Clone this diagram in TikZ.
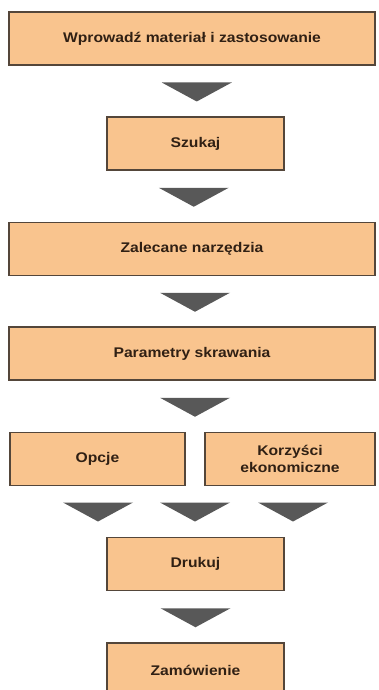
\documentclass[tikz,border=0pt]{standalone}
\usepackage{fontspec}
\setmainfont{Liberation Sans}
\newfontfamily\boxfont[FakeStretch=1.12]{Liberation Sans Bold}
\usetikzlibrary{calc}
\definecolor{boxfill}{RGB}{249,196,142}
\definecolor{boxline}{RGB}{84,70,58}
\definecolor{boxtext}{RGB}{48,32,20}
\definecolor{tipfill}{RGB}{88,88,88}
\begin{document}
\begin{tikzpicture}[x=1pt, y=-1pt, line join=miter,
	stepbox/.style={draw=boxline, line width=1.5pt, fill=boxfill, text=boxtext, minimum height=53pt, inner sep=0pt, align=center, font=\boxfont\fontsize{14}{17}\selectfont},
	widebox/.style={stepbox, minimum width=366pt},
	narrowbox/.style={stepbox, minimum width=177pt},
	tri/.style={fill=tipfill, draw=none}]
	\useasboundingbox (0, 0) rectangle (378, 690);
	\clip (0, 0) rectangle (378, 690);
	% First layer
	\node [widebox] (input) at (192, 38.5) {Wprowadź materiał i zastosowanie};
	% Second layer
	\node [narrowbox] (search) at (195.5, 143.5) {Szukaj};
	% Third layer
	\node [widebox] (tools) at (192, 249) {Zalecane narzędzia};
	% Fourth layer
	\node [widebox] (params) at (192, 353.5) {Parametry skrawania};
	% Fifth layer
	\node [stepbox, minimum width=175pt] (options) at (97.5, 459) {Opcje};
	\node [stepbox, minimum width=170pt] (savings) at (290, 459) {Korzyści\\ekonomiczne};
	% Sixth layer
	\node [narrowbox] (print) at (195.5, 564) {Drukuj};
	% Last layer
	\node [narrowbox, minimum height=54pt] (order) at (195.5, 670) {Zamówienie};
	% Arrow centres
	\coordinate (tip-1) at ($(input.south)!0.5!(search.north) + (3, 1)$);
	\coordinate (tip-2) at ($(search.south)!0.5!(tools.north) + (0, 1)$);
	\coordinate (tip-3) at ($(tools.south)!0.5!(params.north) + (3, 1)$);
	\coordinate (tip-4) at ($(params.south)!0.5!(params.south |- options.north) + (3, 1)$);
	\foreach \x [count=\i] in {98, 195, 293}
		\coordinate (tip-5-\i) at (\x, 512);
	\coordinate (tip-6) at ($(print.south)!0.5!(order.north) + (0, 1)$);
	% Arrows
	\foreach \a in {tip-1, tip-2, tip-3, tip-4, tip-5-1, tip-5-2, tip-5-3, tip-6}
		\fill [tri] (\a) ++(-35, -9.5) -- ++(70, 0) -- ++(-35, 19) -- cycle;
\end{tikzpicture}
\end{document}
